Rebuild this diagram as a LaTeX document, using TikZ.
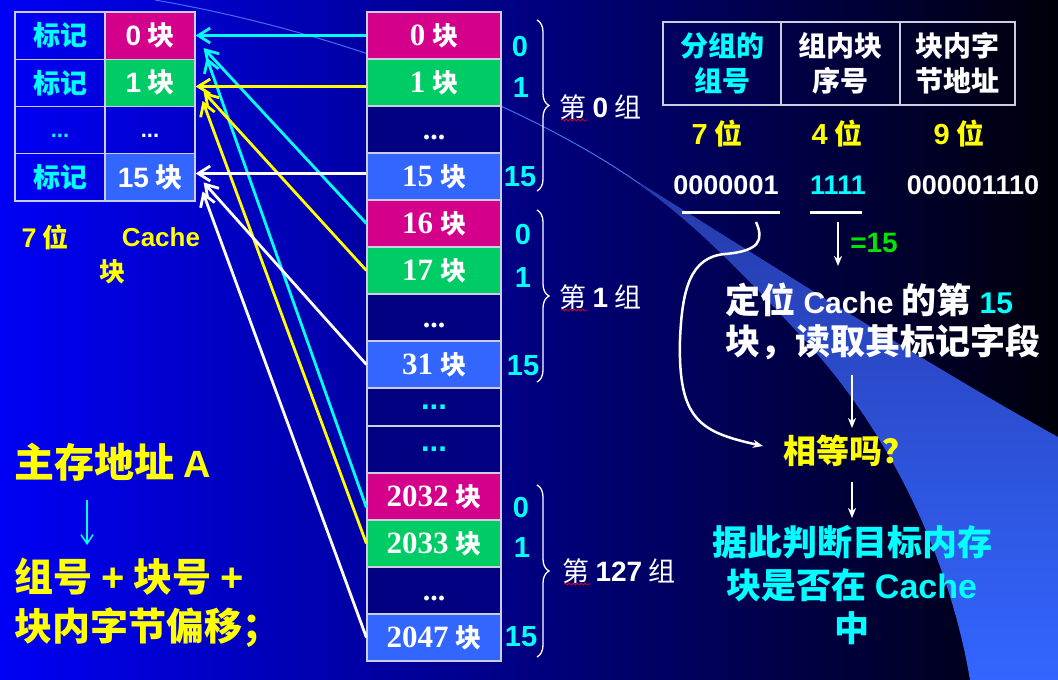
\documentclass[tikz,border=0pt]{standalone}
\usepackage{fontspec}
\setmainfont{Noto Sans CJK SC}
\newfontfamily\lat{Liberation Sans}
\newfontfamily\tms{Liberation Serif}
\usetikzlibrary{arrows.meta,decorations.pathreplacing,decorations.pathmorphing,calc}
\definecolor{bgL}{RGB}{0,0,245}
\definecolor{bgM}{RGB}{0,0,135}
\definecolor{bgR}{RGB}{0,0,10}
\definecolor{mag}{RGB}{212,0,140}
\definecolor{grn}{RGB}{0,204,102}
\definecolor{lbl}{RGB}{51,102,255}
\definecolor{nav}{RGB}{0,0,128}
\definecolor{cyn}{RGB}{0,255,255}
\definecolor{ylw}{RGB}{255,255,0}
\definecolor{gtx}{RGB}{0,230,0}
\definecolor{grid}{RGB}{205,205,225}
\definecolor{bandA}{RGB}{38,58,170}
\definecolor{bandB}{RGB}{51,102,255}
\definecolor{swl}{RGB}{70,110,240}
\newcommand\fs[1]{\fontsize{#1}{#1}\selectfont}
\newcommand\mlab[1]{{\tms\bfseries\fs{31}#1}\hspace{7pt}{\bfseries\fs{26}块}}
\newcommand\clab[1]{{\lat\bfseries\fs{28}#1}\hspace{6pt}{\bfseries\fs{27}块}}
\begin{document}
\begin{tikzpicture}[x=1pt,y=-1pt,
  cell/.style={draw=grid,line width=1.2pt,minimum width=90pt,minimum height=47.25pt,inner sep=0pt},
  mem/.style={draw=grid,line width=1.2pt,minimum width=134pt,minimum height=47pt,inner sep=0pt,text=white},
  idx/.style={text=cyn,font={\lat\bfseries\fs{29}}},
  grp/.style={text=white,anchor=west,font=\fs{27}},
  cn/.style={line width=2.8pt,-{Straight Barb[length=12pt,width=15pt]}},
  brc/.style={white,line width=1.3pt,decorate,decoration={brace,amplitude=12pt}},
  wav/.style={red,line width=0.7pt,decorate,decoration={snake,amplitude=1pt,segment length=4pt}},
  arw/.style={white,line width=2pt,-{Stealth[length=10pt,width=8pt,inset=3pt]}},
  hdr/.style={draw=grid,line width=1.2pt,minimum height=83pt,inner sep=0pt,align=center,font={\fontsize{28}{35}\selectfont\bfseries}},
  bit/.style={text=ylw,font={\fs{28}\bfseries}},
  num/.style={font={\lat\bfseries\fs{27}}},
]
\useasboundingbox (0,0) rectangle (1058,680);
% background
\shade[left color=bgL, middle color=bgM, right color=bgR] (0,0) rectangle (1058,680);
\shade[top color=bandA, bottom color=bandB] (640,183) .. controls (780,270) and (920,360) .. (1058,437)
  -- (1058,680) -- (970,680) .. controls (950,560) and (890,430) .. (800,335)
  .. controls (740,270) and (690,220) .. (640,185) -- cycle;
\draw[swl, line width=1pt] (155,0) .. controls (330,30) and (520,100) .. (640,184);

% cache table
\node[cell] (k0) at (60,35.6) {\fs{27}\bfseries\color{cyn}标记};
\node[cell] (k1) at (60,82.9) {\fs{27}\bfseries\color{cyn}标记};
\node[cell] (kd) at (60,130.1) {\lat\bfseries\fs{22}\color{cyn}\vphantom{0}...};
\node[cell] (k15) at (60,177.4) {\fs{27}\bfseries\color{cyn}标记};
\node[cell,fill=mag,text=white] (c0) at (150,35.6) {\clab{0}};
\node[cell,fill=grn,text=white] (c1) at (150,82.9) {\clab{1}};
\node[cell,text=white] (cd) at (150,130.1) {\lat\bfseries\fs{22}\vphantom{0}...};
\node[cell,fill=lbl,text=white] (c15) at (150,177.4) {\clab{15}};
\node[text=ylw,font={\fs{26}\bfseries}] (w7) at (45,237) {{\lat\fs{27}7} 位};
\node[text=ylw,font={\lat\bfseries\fs{26}}] (wc) at (161,237) {Cache};
\node[text=ylw,font={\fs{26}\bfseries}] (wk) at (112,272) {块};

% memory column
\node[mem,fill=mag] (m0) at (434,35.5) {\mlab{0}};
\node[mem,fill=grn] (m1) at (434,82.5) {\mlab{1}};
\node[mem,fill=nav] (md0) at (434,129.5) {\tms\bfseries\fs{30}\vphantom{0}...};
\node[mem,fill=lbl] (m15) at (434,176.5) {\mlab{15}};
\node[mem,fill=mag] (m16) at (434,223.5) {\mlab{16}};
\node[mem,fill=grn] (m17) at (434,270.5) {\mlab{17}};
\node[mem,fill=nav] (md1) at (434,317.5) {\tms\bfseries\fs{30}\vphantom{0}...};
\node[mem,fill=lbl] (m31) at (434,364.5) {\mlab{31}};
\node[mem,fill=nav,minimum height=38pt,text=cyn] (mda) at (434,407) {\lat\bfseries\fs{31}...};
\node[mem,fill=nav,text=cyn] (mdb) at (434,449.5) {\lat\bfseries\fs{31}...};
\node[mem,fill=mag] (m2032) at (434,496.5) {\mlab{2032}};
\node[mem,fill=grn] (m2033) at (434,543.5) {\mlab{2033}};
\node[mem,fill=nav] (md127) at (434,590.5) {\tms\bfseries\fs{30}\vphantom{0}...};
\node[mem,fill=lbl] (m2047) at (434,637.5) {\mlab{2047}};

% in-group indices
\node[idx] (i00) at (520,47) {0};
\node[idx] (i01) at (521,88) {1};
\node[idx] (i015) at (520,177) {15};
\node[idx] (i10) at (523,235) {0};
\node[idx] (i11) at (523,278) {1};
\node[idx] (i115) at (523,366) {15};
\node[idx] (i20) at (521,508) {0};
\node[idx] (i21) at (522,548) {1};
\node[idx] (i215) at (521,637) {15};

% braces and group labels
\draw[brc] (537,20) -- (537,191);
\draw[brc] (537,210) -- (537,382);
\draw[brc] (537,485) -- (537,657);
\node[grp] (g0) at (556,107) {第 {\lat\bfseries\fs{28}0} 组};
\node[grp] (g1) at (556,297) {第 {\lat\bfseries\fs{28}1} 组};
\node[grp] (g127) at (559,571) {第 {\lat\bfseries\fs{28}127} 组};
\draw[wav] (561,120) -- (587,120);
\draw[wav] (561,310) -- (587,310);
\draw[wav] (564,584) -- (590,584);

% connectors memory -> cache
\draw[cn,cyn] (m0.west) -- (m0.west -| c0.east);
\draw[cn,cyn] (m16.west) -- ($(c0.east)+(8,12.5)$);
\draw[cn,cyn] ($(m2032.west)+(0,11)$) -- ($(c0.east)+(11,22)$);
\draw[cn,ylw] ($(m1.west)+(0,4)$) -- ($(m1.west -| c1.east)+(0,4)$);
\draw[cn,ylw] (m17.west) -- ($(c1.east)+(8,9)$);
\draw[cn,ylw] (m2033.west) -- ($(c1.east)+(7,18)$);
\draw[cn,white] ($(m15.west)+(0,-3)$) -- ($(m15.west -| c15.east)+(0,-3)$);
\draw[cn,white] (m31.west) -- ($(c15.east)+(8,5)$);
\draw[cn,white] (m2047.west) -- ($(c15.east)+(7,14)$);

% address format table
\node[hdr,minimum width=118pt,text=cyn] (h1) at (722,63.5) {分组的\\组号};
\node[hdr,minimum width=119pt,text=white] (h2) at (840.5,63.5) {组内块\\序号};
\node[hdr,minimum width=115pt,text=white] (h3) at (957.5,63.5) {块内字\\节地址};
\node[bit] (b1) at (717,134) {{\lat\fs{29}7} 位};
\node[bit] (b2) at (837,134) {{\lat\fs{29}4} 位};
\node[bit] (b3) at (959,134) {{\lat\fs{29}9} 位};
\node[num,text=white] (n1) at (726,185) {0000001};
\node[num,text=cyn] (n2) at (838,185) {1111};
\node[num,text=white] (n3) at (973,185) {000001110};
\coordinate (u1a) at (682,212); \coordinate (u1b) at (780,212);
\coordinate (u2a) at (810,212); \coordinate (u2b) at (862,212);
\draw[white,line width=3pt] (u1a) -- (u1b);
\draw[white,line width=3pt] (u2a) -- (u2b);
\coordinate (a1s) at (838,222); \coordinate (a1e) at (838,266);
\draw[arw] (a1s) -- (a1e);
\node[text=gtx,font={\lat\bfseries\fs{28}}] (eq15) at (874,243) {=15};
\node[anchor=west,align=left,text=white,font={\fontsize{35}{41}\selectfont\bfseries}] (loc) at (722,321)
  {定位 {\lat\fs{30}Cache} 的第 {\lat\fs{30}\color{cyn}15}\\块，读取其标记字段};
\node[text=ylw,font={\fs{33}\bfseries}] (eq) at (849,451) {相等吗？};
\node[align=center,text=cyn,font={\fontsize{35}{43}\selectfont\bfseries}] (res) at (852,585)
  {据此判断目标内存\\块是否在 {\lat\fs{34}Cache}\\中};
\coordinate (a2s) at (852,375); \coordinate (a2e) at (852,428);
\coordinate (a3s) at (852,482); \coordinate (a3e) at (852,518);
\draw[arw] (a2s) -- (a2e);
\draw[arw] (a3s) -- (a3e);
\coordinate (cs) at (756,222); \coordinate (ce) at (763,446);
\draw[arw,line width=2.5pt] (cs) .. controls (764,240) and (760,251) .. (725,254)
  .. controls (690,257) and (682,290) .. (680,340)
  .. controls (678,420) and (700,432) .. (ce);

% bottom-left text
\node[anchor=west,text=ylw,font={\fs{40}\bfseries}] (addr) at (11,462) {主存地址 {\lat\fs{38}A}};
\node[anchor=west,text=ylw,font={\fs{39}\bfseries}] (sp1) at (11,577) {组号 {\lat\fs{40}+} 块号 {\lat\fs{40}+}};
\node[anchor=west,text=ylw,font={\fs{38}\bfseries}] (sp2) at (11,628) {块内字节偏移；};
\coordinate (aa) at (87,500); \coordinate (ab) at (87,545);
\draw[cyn,line width=1.5pt,-{Straight Barb[length=9pt,width=12pt]}] (aa) -- (ab);
\end{tikzpicture}
\end{document}
